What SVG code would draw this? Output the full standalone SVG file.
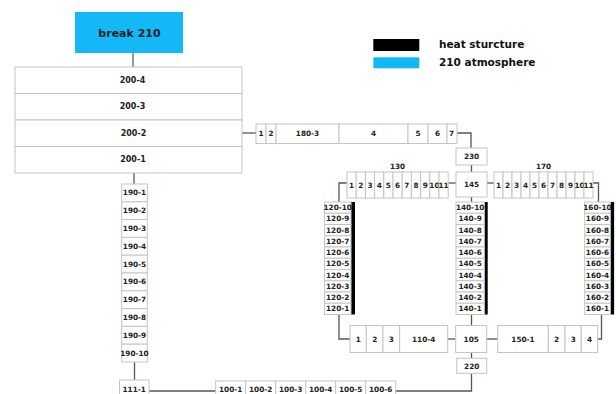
<svg xmlns="http://www.w3.org/2000/svg" width="616" height="394" viewBox="0 0 616 394">
<style>
.b{fill:#fff;stroke:#c4c4c4;stroke-width:1}
.t{font-family:"DejaVu Sans",Verdana,sans-serif;font-weight:bold;font-size:7.3px;fill:#222;text-anchor:middle;dominant-baseline:central}
.t8{font-size:8px}
.c{fill:none;stroke:#555;stroke-width:1.3}
.h{fill:#000}
.a{fill:#13B9F6}
.lg{font-family:"DejaVu Sans",Verdana,sans-serif;font-weight:bold;font-size:10.5px;fill:#111}
</style>
<rect width="616" height="394" fill="#fff"/>
<g id="connectors">
<path class="c" d="M133 53V67" style="stroke:#999;stroke-width:2"/>
<path class="c" d="M242 133H256"/>
<path class="c" d="M457 133H471V148"/>
<path class="c" d="M471.5 165V172"/>
<path class="c" d="M448.2 183H456"/>
<path class="c" d="M487 183H494"/>
<path class="c" d="M593 183H598.5V202"/>
<path class="c" d="M347 183H339V202"/>
<path class="c" d="M471.5 197V202"/>
<path class="c" d="M471.5 314.5V325.5"/>
<path class="c" d="M339 314.5V339H350"/>
<path class="c" d="M601.5 314.5V339H597.7"/>
<path class="c" d="M447.7 339H455.7"/>
<path class="c" d="M486.7 339H497.7"/>
<path class="c" d="M471.5 352.5V358.3"/>
<path class="c" d="M471.5 373.3V391H395.7"/>
<path class="c" d="M149 391H215.7"/>
<path class="c" d="M134 172.5V184"/>
<path class="c" d="M134.5 362V380"/>
</g>
<g id="legend">
<rect class="h" x="373.3" y="39" width="46" height="12"/>
<rect class="a" x="373.3" y="57.3" width="46" height="11"/>
<text class="lg" x="439" y="48">heat sturcture</text>
<text class="lg" x="439" y="65.5">210 atmosphere</text>
</g>
<g id="break210"><rect class="a" x="75" y="12" width="108" height="41"/><text class="t" x="129.5" y="33" style="font-size:11px">break 210</text></g>
<g id="n200-4"><rect class="b" x="15" y="67" width="227" height="26.5"/><text class="t t8" x="132.5" y="80.3">200-4</text></g>
<g id="n200-3"><rect class="b" x="15" y="93.5" width="227" height="26.5"/><text class="t t8" x="132.5" y="106.8">200-3</text></g>
<g id="n200-2"><rect class="b" x="15" y="120" width="227" height="26.5"/><text class="t t8" x="133.5" y="133.3">200-2</text></g>
<g id="n200-1"><rect class="b" x="15" y="146.5" width="227" height="26.5"/><text class="t t8" x="133" y="159.8">200-1</text></g>
<g id="row180">
<g id="n180-1"><rect class="b" x="256" y="124" width="10" height="19.5"/><text class="t" x="261" y="133.8">1</text></g>
<g id="n180-2"><rect class="b" x="266" y="124" width="10" height="19.5"/><text class="t" x="271" y="133.8">2</text></g>
<g id="n180-3"><rect class="b" x="276" y="124" width="63" height="19.5"/><text class="t" x="307.5" y="133.8">180-3</text></g>
<g id="n180-4"><rect class="b" x="339" y="124" width="69" height="19.5"/><text class="t" x="373.5" y="133.8">4</text></g>
<g id="n180-5"><rect class="b" x="408" y="124" width="20" height="19.5"/><text class="t" x="418" y="133.8">5</text></g>
<g id="n180-6"><rect class="b" x="428" y="124" width="19" height="19.5"/><text class="t" x="437.5" y="133.8">6</text></g>
<g id="n180-7"><rect class="b" x="447" y="124" width="10" height="19.5"/><text class="t" x="451.5" y="133.8">7</text></g>
</g>
<g id="n230"><rect class="b" x="456" y="148" width="31" height="17"/><text class="t" x="471.5" y="156.5">230</text></g>
<g id="n145"><rect class="b" x="456" y="172" width="31" height="25"/><text class="t" x="471.5" y="184.5">145</text></g>
<g id="row130">
<text class="t" x="397.6" y="166">130</text>
<g id="n130-1"><rect class="b" x="347" y="172" width="9.2" height="26"/><text class="t" x="351.6" y="185">1</text></g>
<g id="n130-2"><rect class="b" x="356.2" y="172" width="9.2" height="26"/><text class="t" x="360.8" y="185">2</text></g>
<g id="n130-3"><rect class="b" x="365.4" y="172" width="9.2" height="26"/><text class="t" x="370" y="185">3</text></g>
<g id="n130-4"><rect class="b" x="374.6" y="172" width="9.2" height="26"/><text class="t" x="379.2" y="185">4</text></g>
<g id="n130-5"><rect class="b" x="383.8" y="172" width="9.2" height="26"/><text class="t" x="388.4" y="185">5</text></g>
<g id="n130-6"><rect class="b" x="393" y="172" width="9.2" height="26"/><text class="t" x="397.6" y="185">6</text></g>
<g id="n130-7"><rect class="b" x="402.2" y="172" width="9.2" height="26"/><text class="t" x="406.8" y="185">7</text></g>
<g id="n130-8"><rect class="b" x="411.4" y="172" width="9.2" height="26"/><text class="t" x="416" y="185">8</text></g>
<g id="n130-9"><rect class="b" x="420.6" y="172" width="9.2" height="26"/><text class="t" x="425.2" y="185">9</text></g>
<g id="n130-10"><rect class="b" x="429.8" y="172" width="9.2" height="26"/><text class="t" x="434.4" y="185">10</text></g>
<g id="n130-11"><rect class="b" x="439" y="172" width="9.2" height="26"/><text class="t" x="443.6" y="185">11</text></g>
</g>
<g id="row170">
<text class="t" x="543.5" y="166">170</text>
<g id="n170-1"><rect class="b" x="494" y="172" width="9" height="26"/><text class="t" x="498.5" y="185">1</text></g>
<g id="n170-2"><rect class="b" x="503" y="172" width="9" height="26"/><text class="t" x="507.5" y="185">2</text></g>
<g id="n170-3"><rect class="b" x="512" y="172" width="9" height="26"/><text class="t" x="516.5" y="185">3</text></g>
<g id="n170-4"><rect class="b" x="521" y="172" width="9" height="26"/><text class="t" x="525.5" y="185">4</text></g>
<g id="n170-5"><rect class="b" x="530" y="172" width="9" height="26"/><text class="t" x="534.5" y="185">5</text></g>
<g id="n170-6"><rect class="b" x="539" y="172" width="9" height="26"/><text class="t" x="543.5" y="185">6</text></g>
<g id="n170-7"><rect class="b" x="548" y="172" width="9" height="26"/><text class="t" x="552.5" y="185">7</text></g>
<g id="n170-8"><rect class="b" x="557" y="172" width="9" height="26"/><text class="t" x="561.5" y="185">8</text></g>
<g id="n170-9"><rect class="b" x="566" y="172" width="9" height="26"/><text class="t" x="570.5" y="185">9</text></g>
<g id="n170-10"><rect class="b" x="575" y="172" width="9" height="26"/><text class="t" x="579.5" y="185">10</text></g>
<g id="n170-11"><rect class="b" x="584" y="172" width="9" height="26"/><text class="t" x="588.5" y="185">11</text></g>
</g>
<g id="col120">
<rect class="h" x="351" y="202" width="4" height="112.5"/>
<g id="n120-10"><rect class="b" x="324.5" y="202" width="26.5" height="11.25"/><text class="t" x="337.7" y="207.6">120-10</text></g>
<g id="n120-9"><rect class="b" x="324.5" y="213.25" width="26.5" height="11.25"/><text class="t" x="337.7" y="218.9">120-9</text></g>
<g id="n120-8"><rect class="b" x="324.5" y="224.5" width="26.5" height="11.25"/><text class="t" x="337.7" y="230.1">120-8</text></g>
<g id="n120-7"><rect class="b" x="324.5" y="235.75" width="26.5" height="11.25"/><text class="t" x="337.7" y="241.4">120-7</text></g>
<g id="n120-6"><rect class="b" x="324.5" y="247" width="26.5" height="11.25"/><text class="t" x="337.7" y="252.6">120-6</text></g>
<g id="n120-5"><rect class="b" x="324.5" y="258.25" width="26.5" height="11.25"/><text class="t" x="337.7" y="263.9">120-5</text></g>
<g id="n120-4"><rect class="b" x="324.5" y="269.5" width="26.5" height="11.25"/><text class="t" x="337.7" y="275.1">120-4</text></g>
<g id="n120-3"><rect class="b" x="324.5" y="280.75" width="26.5" height="11.25"/><text class="t" x="337.7" y="286.4">120-3</text></g>
<g id="n120-2"><rect class="b" x="324.5" y="292" width="26.5" height="11.25"/><text class="t" x="337.7" y="297.6">120-2</text></g>
<g id="n120-1"><rect class="b" x="324.5" y="303.25" width="26.5" height="11.25"/><text class="t" x="337.7" y="308.9">120-1</text></g>
</g>
<g id="col140">
<rect class="h" x="484.3" y="202" width="3.4" height="112.5"/>
<g id="n140-10"><rect class="b" x="456" y="202" width="28.3" height="11.25"/><text class="t" x="470.1" y="207.6">140-10</text></g>
<g id="n140-9"><rect class="b" x="456" y="213.25" width="28.3" height="11.25"/><text class="t" x="470.1" y="218.9">140-9</text></g>
<g id="n140-8"><rect class="b" x="456" y="224.5" width="28.3" height="11.25"/><text class="t" x="470.1" y="230.1">140-8</text></g>
<g id="n140-7"><rect class="b" x="456" y="235.75" width="28.3" height="11.25"/><text class="t" x="470.1" y="241.4">140-7</text></g>
<g id="n140-6"><rect class="b" x="456" y="247" width="28.3" height="11.25"/><text class="t" x="470.1" y="252.6">140-6</text></g>
<g id="n140-5"><rect class="b" x="456" y="258.25" width="28.3" height="11.25"/><text class="t" x="470.1" y="263.9">140-5</text></g>
<g id="n140-4"><rect class="b" x="456" y="269.5" width="28.3" height="11.25"/><text class="t" x="470.1" y="275.1">140-4</text></g>
<g id="n140-3"><rect class="b" x="456" y="280.75" width="28.3" height="11.25"/><text class="t" x="470.1" y="286.4">140-3</text></g>
<g id="n140-2"><rect class="b" x="456" y="292" width="28.3" height="11.25"/><text class="t" x="470.1" y="297.6">140-2</text></g>
<g id="n140-1"><rect class="b" x="456" y="303.25" width="28.3" height="11.25"/><text class="t" x="470.1" y="308.9">140-1</text></g>
</g>
<g id="col160">
<rect class="h" x="610.3" y="202" width="3.8" height="112.5"/>
<g id="n160-10"><rect class="b" x="584.7" y="202" width="25.6" height="11.25"/><text class="t" x="597.5" y="207.6">160-10</text></g>
<g id="n160-9"><rect class="b" x="584.7" y="213.25" width="25.6" height="11.25"/><text class="t" x="597.5" y="218.9">160-9</text></g>
<g id="n160-8"><rect class="b" x="584.7" y="224.5" width="25.6" height="11.25"/><text class="t" x="597.5" y="230.1">160-8</text></g>
<g id="n160-7"><rect class="b" x="584.7" y="235.75" width="25.6" height="11.25"/><text class="t" x="597.5" y="241.4">160-7</text></g>
<g id="n160-6"><rect class="b" x="584.7" y="247" width="25.6" height="11.25"/><text class="t" x="597.5" y="252.6">160-6</text></g>
<g id="n160-5"><rect class="b" x="584.7" y="258.25" width="25.6" height="11.25"/><text class="t" x="597.5" y="263.9">160-5</text></g>
<g id="n160-4"><rect class="b" x="584.7" y="269.5" width="25.6" height="11.25"/><text class="t" x="597.5" y="275.1">160-4</text></g>
<g id="n160-3"><rect class="b" x="584.7" y="280.75" width="25.6" height="11.25"/><text class="t" x="597.5" y="286.4">160-3</text></g>
<g id="n160-2"><rect class="b" x="584.7" y="292" width="25.6" height="11.25"/><text class="t" x="597.5" y="297.6">160-2</text></g>
<g id="n160-1"><rect class="b" x="584.7" y="303.25" width="25.6" height="11.25"/><text class="t" x="597.5" y="308.9">160-1</text></g>
</g>
<g id="row110">
<g id="n110-1"><rect class="b" x="350" y="325.5" width="16.3" height="27"/><text class="t" x="358.2" y="339">1</text></g>
<g id="n110-2"><rect class="b" x="366.3" y="325.5" width="16.7" height="27"/><text class="t" x="374.7" y="339">2</text></g>
<g id="n110-3"><rect class="b" x="383" y="325.5" width="16.7" height="27"/><text class="t" x="391.3" y="339">3</text></g>
<g id="n110-4"><rect class="b" x="399.7" y="325.5" width="48" height="27"/><text class="t" x="423.7" y="339">110-4</text></g>
</g>
<g id="n105"><rect class="b" x="455.7" y="325.5" width="31" height="27"/><text class="t" x="471.2" y="339">105</text></g>
<g id="row150">
<g id="n150-1"><rect class="b" x="497.7" y="325.5" width="50.6" height="27"/><text class="t" x="523" y="339">150-1</text></g>
<g id="n150-2"><rect class="b" x="548.3" y="325.5" width="16.7" height="27"/><text class="t" x="556.6" y="339">2</text></g>
<g id="n150-3"><rect class="b" x="565" y="325.5" width="16.3" height="27"/><text class="t" x="573.2" y="339">3</text></g>
<g id="n150-4"><rect class="b" x="581.3" y="325.5" width="16.4" height="27"/><text class="t" x="589.5" y="339">4</text></g>
</g>
<g id="n220"><rect class="b" x="456.7" y="358.3" width="30" height="15"/><text class="t" x="471.7" y="366">220</text></g>
<g id="col190">
<g id="n190-1"><rect class="b" x="121.7" y="184" width="25.6" height="17.8"/><text class="t" x="134.5" y="192.9">190-1</text></g>
<g id="n190-2"><rect class="b" x="121.7" y="201.8" width="25.6" height="17.8"/><text class="t" x="134.5" y="210.7">190-2</text></g>
<g id="n190-3"><rect class="b" x="121.7" y="219.6" width="25.6" height="17.8"/><text class="t" x="134.5" y="228.5">190-3</text></g>
<g id="n190-4"><rect class="b" x="121.7" y="237.4" width="25.6" height="17.8"/><text class="t" x="134.5" y="246.3">190-4</text></g>
<g id="n190-5"><rect class="b" x="121.7" y="255.2" width="25.6" height="17.8"/><text class="t" x="134.5" y="264.1">190-5</text></g>
<g id="n190-6"><rect class="b" x="121.7" y="273" width="25.6" height="17.8"/><text class="t" x="134.5" y="281.9">190-6</text></g>
<g id="n190-7"><rect class="b" x="121.7" y="290.8" width="25.6" height="17.8"/><text class="t" x="134.5" y="299.7">190-7</text></g>
<g id="n190-8"><rect class="b" x="121.7" y="308.6" width="25.6" height="17.8"/><text class="t" x="134.5" y="317.5">190-8</text></g>
<g id="n190-9"><rect class="b" x="121.7" y="326.4" width="25.6" height="17.8"/><text class="t" x="134.5" y="335.3">190-9</text></g>
<g id="n190-10"><rect class="b" x="121.7" y="344.2" width="25.6" height="17.8"/><text class="t" x="134.5" y="353.1">190-10</text></g>
</g>
<g id="n111-1"><rect class="b" x="119.5" y="380" width="29.5" height="20"/><text class="t" x="134.2" y="389">111-1</text></g>
<g id="row100">
<g id="n100-1"><rect class="b" x="215.7" y="381" width="30" height="20"/><text class="t" x="230.7" y="389.5">100-1</text></g>
<g id="n100-2"><rect class="b" x="245.7" y="381" width="30" height="20"/><text class="t" x="260.7" y="389.5">100-2</text></g>
<g id="n100-3"><rect class="b" x="275.7" y="381" width="30" height="20"/><text class="t" x="290.7" y="389.5">100-3</text></g>
<g id="n100-4"><rect class="b" x="305.7" y="381" width="30" height="20"/><text class="t" x="320.7" y="389.5">100-4</text></g>
<g id="n100-5"><rect class="b" x="335.7" y="381" width="30" height="20"/><text class="t" x="350.7" y="389.5">100-5</text></g>
<g id="n100-6"><rect class="b" x="365.7" y="381" width="30" height="20"/><text class="t" x="380.7" y="389.5">100-6</text></g>
</g>
</svg>
